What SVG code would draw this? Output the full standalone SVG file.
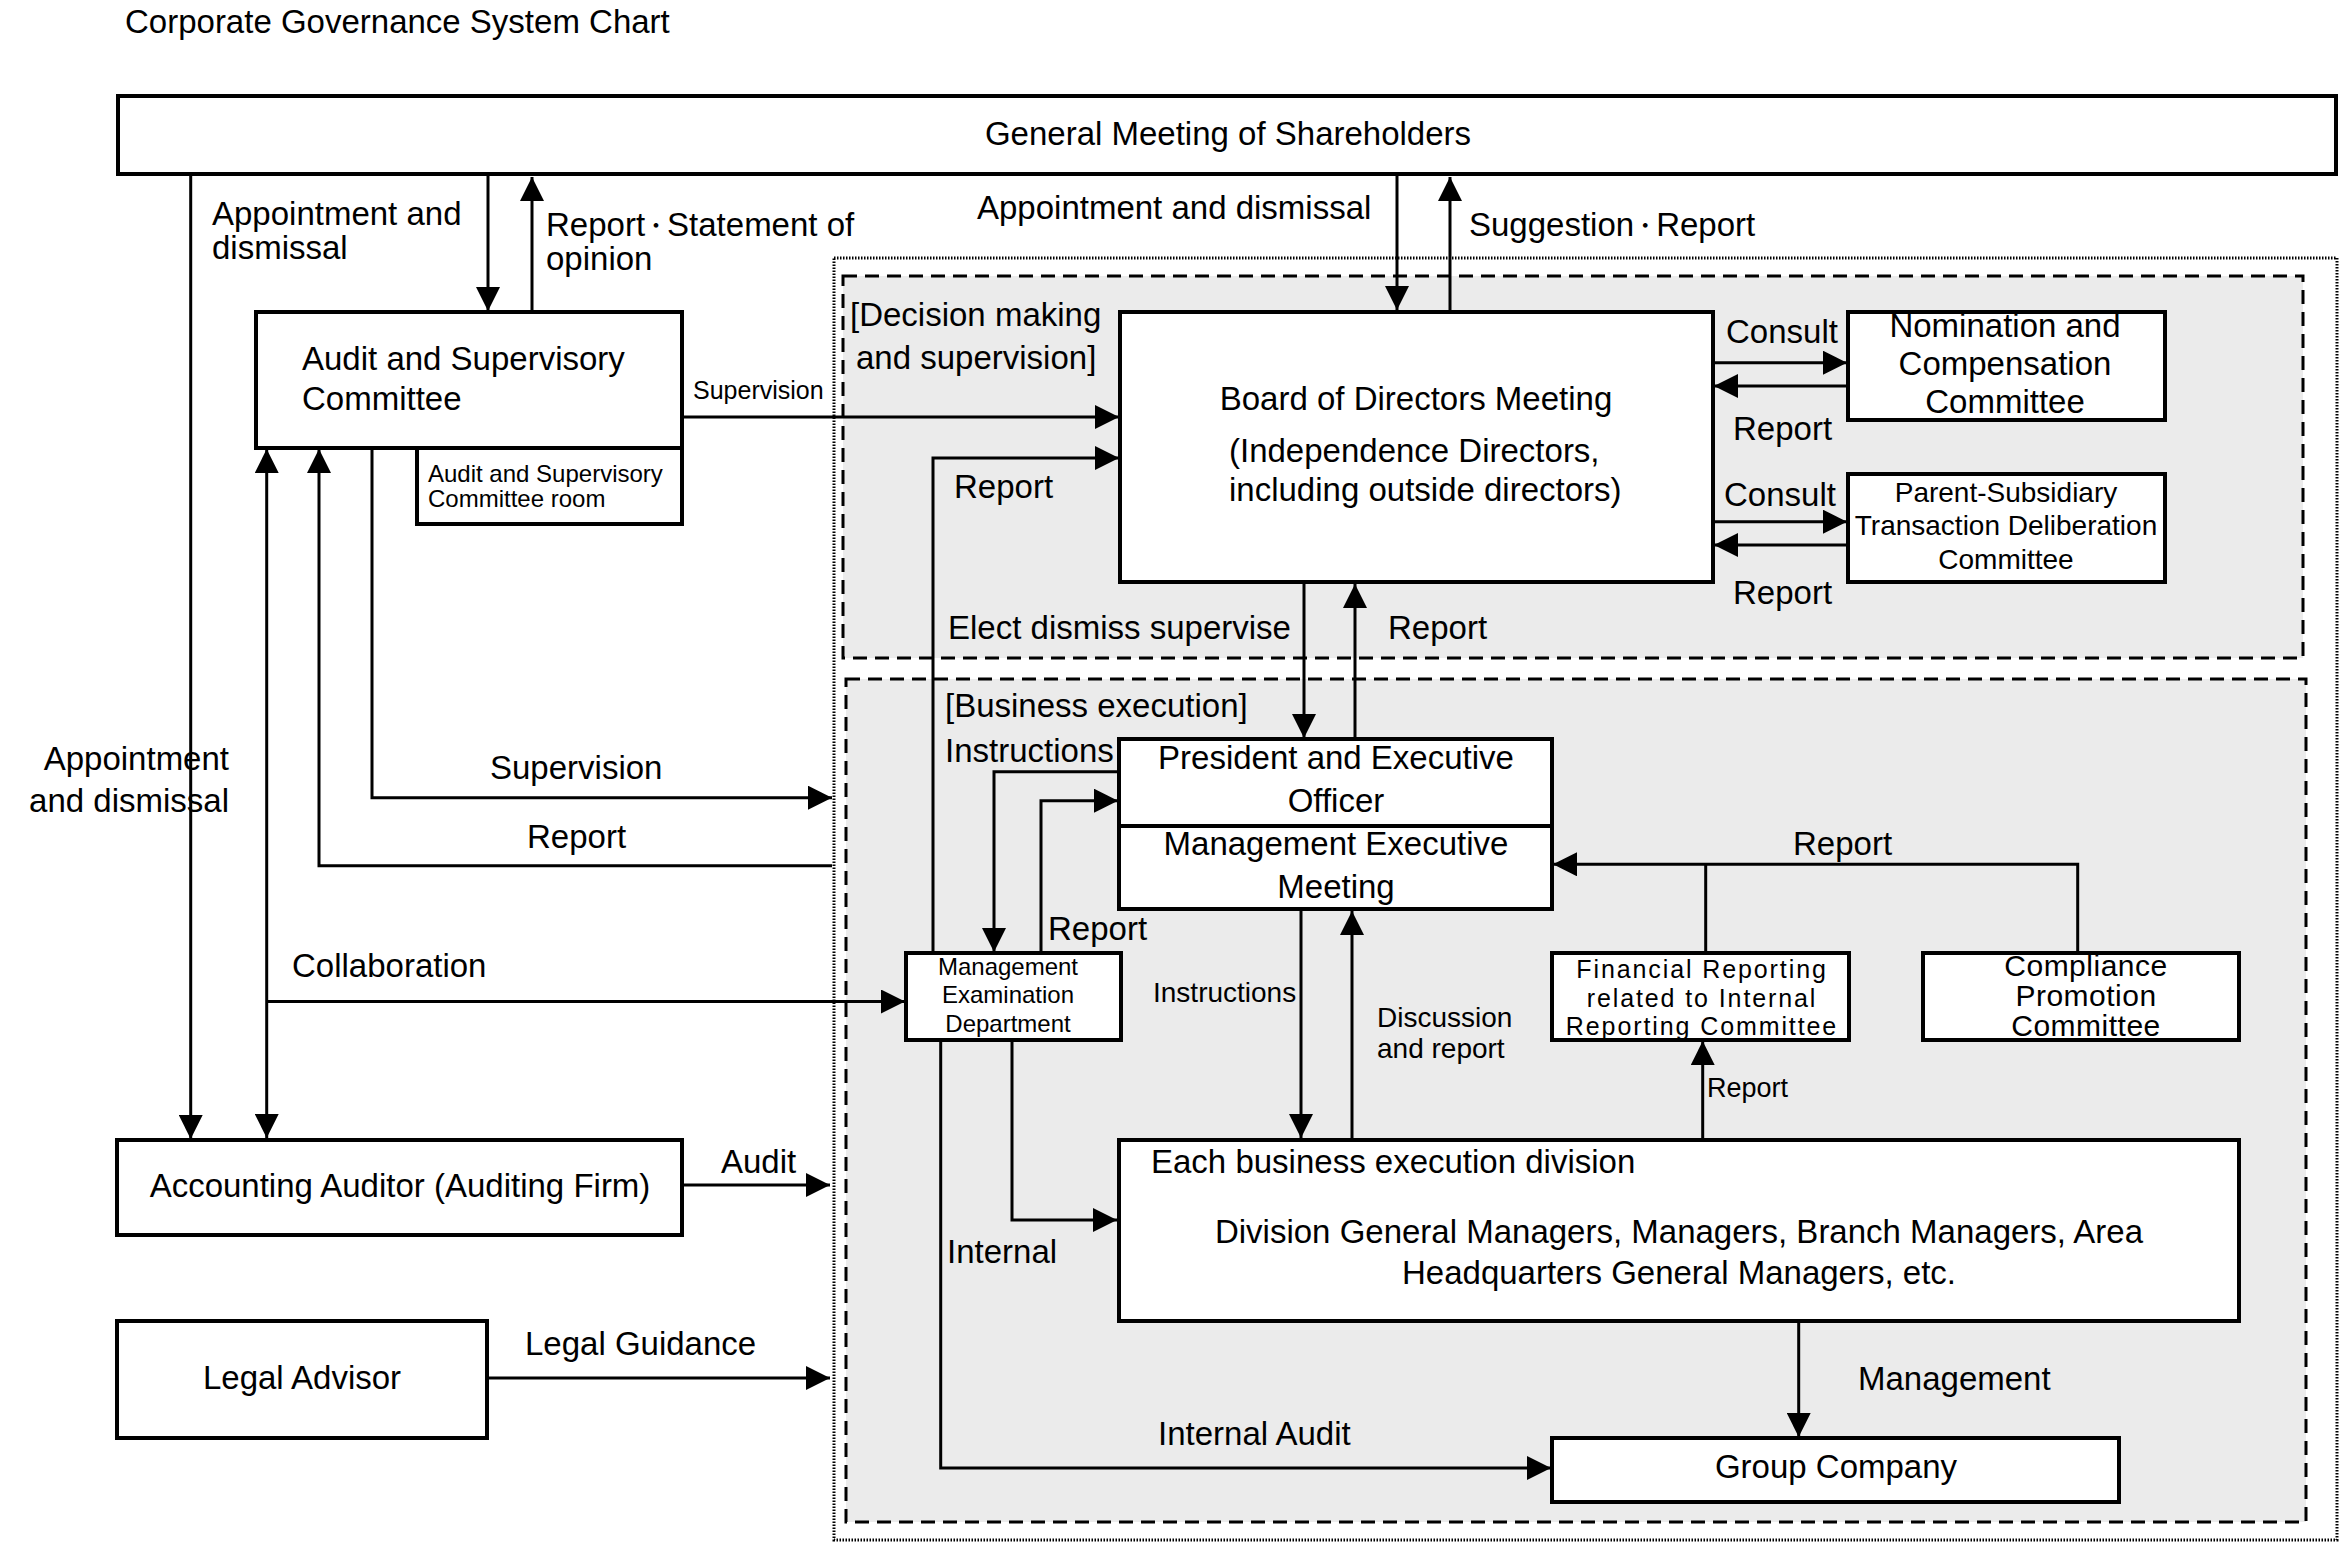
<svg xmlns="http://www.w3.org/2000/svg" width="2340" height="1542" viewBox="0 0 2340 1542">
<style>
text{font-family:"Liberation Sans",Arial,"Noto Sans CJK JP",sans-serif;fill:#000;font-size:33px}
.box{fill:#fff;stroke:#000;stroke-width:4}
.c{text-anchor:middle}
.e{text-anchor:end}
.s24{font-size:24px}
.s25{font-size:25px}
.s28{font-size:28px}
.dot{font-size:22px}
.con path{fill:none;stroke:#000;stroke-width:3;marker-end:url(#arr)}
.con path.nm{marker-end:none}
.zone{fill:#ebebeb;stroke:#000;stroke-width:3;stroke-dasharray:14 8}
</style>
<defs>
<marker id="arr" viewBox="0 0 24 24" markerWidth="24" markerHeight="24" refX="24" refY="12" markerUnits="userSpaceOnUse" orient="auto-start-reverse">
<path d="M0,0 L24,12 L0,24 z" fill="#000"/>
</marker>
</defs>
<rect width="2340" height="1542" fill="#fff"/>
<text x="125" y="33">Corporate Governance System Chart</text>

<g id="frames">
<rect x="834" y="258" width="1503" height="1282" fill="none" stroke="#000" stroke-width="3" stroke-dasharray="1.5 1.5"/>
<rect class="zone" x="843" y="276" width="1460" height="382"/>
<rect class="zone" x="846" y="679" width="1460" height="843"/>
<text x="850" y="326">[Decision making</text>
<text x="856" y="369">and supervision]</text>
<text x="945" y="717">[Business execution]</text>
</g>

<g id="connectors" class="con">
<path d="M190.7,176 V1139"/>
<path d="M488,176 V311"/>
<path d="M532,311 V177"/>
<path d="M682,417 H1119"/>
<path d="M1397,176 V310"/>
<path d="M1450,312 V177"/>
<path d="M1713,362.7 H1847"/>
<path d="M1847,386 H1714"/>
<path d="M1713,521.7 H1847"/>
<path d="M1847,545 H1714"/>
<path d="M1304,582 V738"/>
<path d="M1355,739 V584"/>
<path d="M933,953 V458 H1119"/>
<path d="M372,448 V797.7 H832"/>
<path d="M832,865.7 H319 V449"/>
<path d="M266.7,449 V1138" style="marker-start:url(#arr)"/>
<path d="M266.7,1001.5 H905"/>
<path d="M1119,771.7 H994 V952"/>
<path d="M1041,953 V800.7 H1118"/>
<path d="M1301,909 V1138"/>
<path d="M1352,1140 V911"/>
<path d="M2077.7,953 V864.3 H1553"/>
<path class="nm" d="M1705.7,953 V864.3"/>
<path d="M1702.7,1140 V1041"/>
<path d="M1012,1040 V1220 H1117"/>
<path d="M940.7,1040 V1468 H1551"/>
<path d="M1798.7,1321 V1437"/>
<path d="M682,1185 H830"/>
<path d="M487,1378 H830"/>
</g>

<g id="labels">
<text x="212" y="225">Appointment and</text>
<text x="212" y="259">dismissal</text>
<text x="546" y="236">Report<tspan class="dot" dy="-3">・</tspan><tspan dy="3">Statement of</tspan></text>
<text x="546" y="270">opinion</text>
<text x="977" y="219">Appointment and dismissal</text>
<text x="1469" y="236">Suggestion<tspan class="dot" dy="-3">・</tspan><tspan dy="3">Report</tspan></text>
<text class="s25" x="693" y="399">Supervision</text>
<text x="954" y="498">Report</text>
<text x="1726" y="343">Consult</text>
<text x="1733" y="440">Report</text>
<text x="1724" y="506">Consult</text>
<text x="1733" y="604">Report</text>
<text x="948" y="639">Elect dismiss supervise</text>
<text x="1388" y="639">Report</text>
<text x="945" y="762">Instructions</text>
<text x="1048" y="940">Report</text>
<text x="490" y="779">Supervision</text>
<text x="527" y="848">Report</text>
<text class="e" x="229" y="770">Appointment</text>
<text class="e" x="229" y="812">and dismissal</text>
<text x="292" y="977">Collaboration</text>
<text class="s28" x="1153" y="1002">Instructions</text>
<text class="s28" x="1377" y="1027">Discussion</text>
<text class="s28" x="1377" y="1058">and report</text>
<text x="1793" y="855">Report</text>
<text style="font-size:27px" x="1707" y="1097">Report</text>
<text x="721" y="1173">Audit</text>
<text x="947" y="1263">Internal</text>
<text x="1158" y="1445">Internal Audit</text>
<text x="1858" y="1390">Management</text>
<text x="525" y="1355">Legal Guidance</text>
</g>

<g id="general-meeting">
<rect class="box" x="118" y="96" width="2218" height="78"/>
<text class="c" x="1228" y="145">General Meeting of Shareholders</text>
</g>

<g id="audit-committee">
<rect class="box" x="256" y="312" width="426" height="136"/>
<text x="302" y="370">Audit and Supervisory</text>
<text x="302" y="410">Committee</text>
</g>

<g id="audit-room">
<rect class="box" x="417" y="448" width="265" height="76"/>
<text class="s24" x="428" y="482">Audit and Supervisory</text>
<text class="s24" x="428" y="507">Committee room</text>
</g>

<g id="board">
<rect class="box" x="1120" y="312" width="593" height="270"/>
<text class="c" x="1416" y="410">Board of Directors Meeting</text>
<text x="1229" y="462">(Independence Directors,</text>
<text x="1229" y="501">including outside directors)</text>
</g>

<g id="nomination">
<rect class="box" x="1848" y="312" width="317" height="108"/>
<text class="c" x="2005" y="337">Nomination and</text>
<text class="c" x="2005" y="375">Compensation</text>
<text class="c" x="2005" y="413">Committee</text>
</g>

<g id="parent-subsidiary">
<rect class="box" x="1848" y="474" width="317" height="108"/>
<text class="c s28" x="2006" y="502">Parent-Subsidiary</text>
<text class="c s28" x="2006" y="535">Transaction Deliberation</text>
<text class="c s28" x="2006" y="569">Committee</text>
</g>

<g id="president">
<rect class="box" x="1119" y="739" width="433" height="170"/>
<line x1="1119" y1="826" x2="1552" y2="826" stroke="#000" stroke-width="4"/>
<text class="c" x="1336" y="769">President and Executive</text>
<text class="c" x="1336" y="812">Officer</text>
<text class="c" x="1336" y="855">Management Executive</text>
<text class="c" x="1336" y="898">Meeting</text>
</g>

<g id="management-examination">
<rect class="box" x="906" y="953" width="215" height="87"/>
<text class="c s24" x="1008" y="975">Management</text>
<text class="c s24" x="1008" y="1003">Examination</text>
<text class="c s24" x="1008" y="1032">Department</text>
</g>

<g id="financial-reporting">
<rect class="box" x="1552" y="953" width="297" height="87"/>
<text class="c" style="font-size:25px;letter-spacing:1.9px" x="1702" y="978">Financial Reporting</text>
<text class="c" style="font-size:25px;letter-spacing:1.9px" x="1702" y="1007">related to Internal</text>
<text class="c" style="font-size:25px;letter-spacing:1.9px" x="1702" y="1035">Reporting Committee</text>
</g>

<g id="compliance">
<rect class="box" x="1923" y="953" width="316" height="87"/>
<text class="c" style="font-size:30px;letter-spacing:0.5px" x="2086" y="976">Compliance</text>
<text class="c" style="font-size:30px;letter-spacing:0.5px" x="2086" y="1006">Promotion</text>
<text class="c" style="font-size:30px;letter-spacing:0.5px" x="2086" y="1036">Committee</text>
</g>

<g id="division">
<rect class="box" x="1119" y="1140" width="1120" height="181"/>
<text x="1151" y="1173">Each business execution division</text>
<text class="c" x="1679" y="1243">Division General Managers, Managers, Branch Managers, Area</text>
<text class="c" x="1679" y="1284">Headquarters General Managers, etc.</text>
</g>

<g id="group-company">
<rect class="box" x="1552" y="1438" width="567" height="64"/>
<text class="c" x="1836" y="1478">Group Company</text>
</g>

<g id="accounting-auditor">
<rect class="box" x="117" y="1140" width="565" height="95"/>
<text class="c" x="400" y="1197">Accounting Auditor (Auditing Firm)</text>
</g>

<g id="legal-advisor">
<rect class="box" x="117" y="1321" width="370" height="117"/>
<text class="c" x="302" y="1389">Legal Advisor</text>
</g>
</svg>
